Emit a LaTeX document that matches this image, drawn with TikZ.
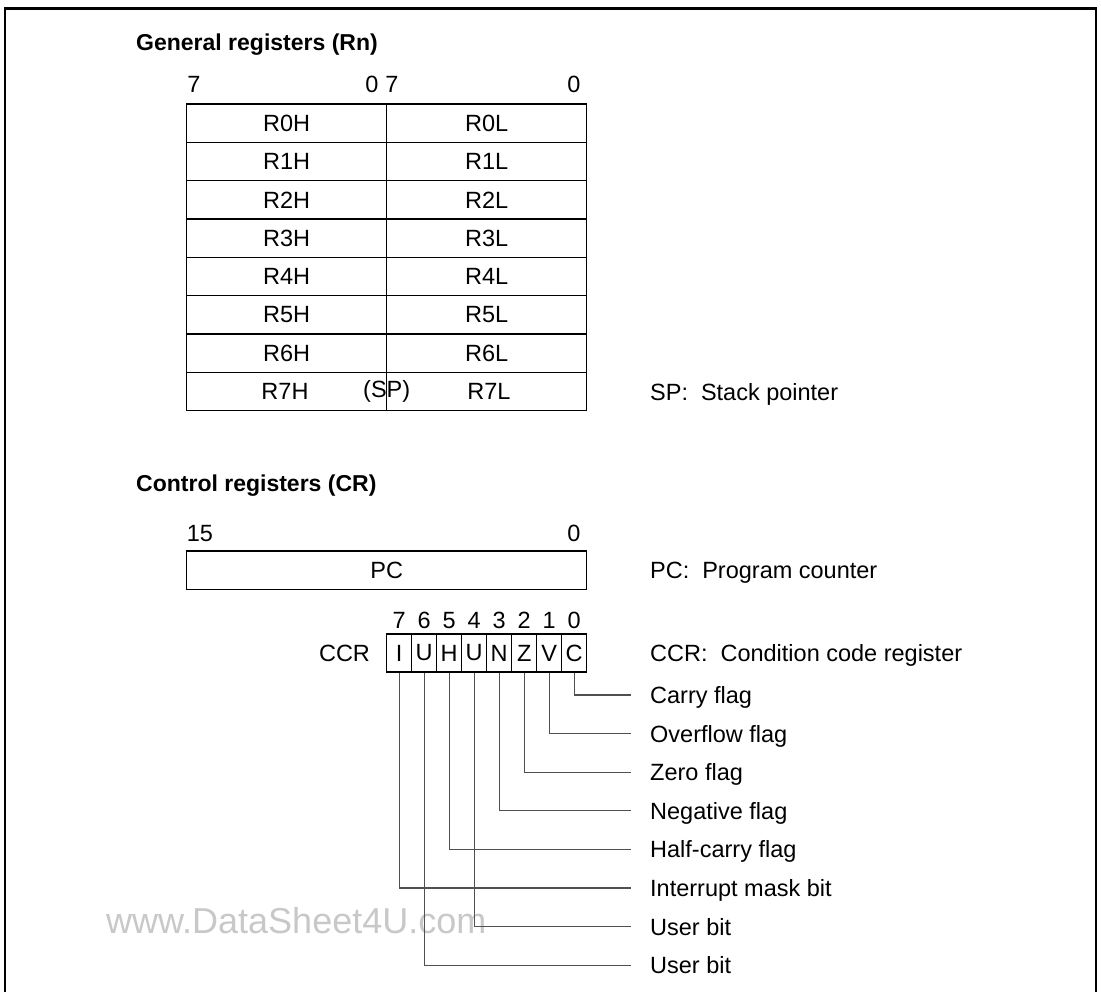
\documentclass[tikz,border=0pt]{standalone}
\usepackage{fontspec}
\setmainfont{Liberation Sans}
\definecolor{wm}{RGB}{200,200,200}
\definecolor{lead}{RGB}{80,80,80}
\begin{document}
\begin{tikzpicture}[x=1pt,y=-1pt,
  txt/.style={font=\fontsize{23.5}{28}\selectfont, inner sep=0pt},
  ttl/.style={font=\fontsize{23}{28}\selectfont\bfseries, inner sep=0pt, anchor=base west},
  lbl/.style={txt, anchor=base west},
  bitno/.style={txt, anchor=base},
  cell/.style={txt, draw, line width=1.4pt, minimum width=200pt, minimum height=38.33pt},
  pcbox/.style={txt, draw, line width=1.4pt, minimum width=400pt, minimum height=38.5pt},
  ccell/.style={txt, draw, line width=1.3pt, minimum width=25pt, minimum height=38pt},
  leader/.style={draw=lead, line width=1.1pt}]
\useasboundingbox (0,0) rectangle (1101,992);
% frame
\draw[line width=2.2pt] (5,992) -- (5,8.5) -- (1096,8.5) -- (1096,992);

% watermark
\node[anchor=base west, inner sep=0pt, font=\fontsize{36}{40}\selectfont, text=wm] (wmark) at (106,933) {www.DataSheet4U.com};

% General registers
\node[ttl] (t1) at (136,51) {General registers (Rn)};
\node[bitno] (g7a) at (194,93) {7};
\node[bitno] (g0a) at (372,93) {0};
\node[bitno] (g7b) at (392,93) {7};
\node[bitno] (g0b) at (574,93) {0};

\foreach \i in {0,...,7}{
  \pgfmathsetmacro{\yc}{123.17+38.33*\i}
  \node[cell] (r\i h) at (286.7,\yc) {\ifnum\i=7 \else R\i H\fi};
  \node[cell] (r\i l) at (486.7,\yc) {\ifnum\i=7 \else R\i L\fi};
}
\node[txt] (r7htxt) at (285,391.8) {R7H};
\node[txt] (sp) at (386.7,391.8) {(SP)};
\node[txt] (r7ltxt) at (489,391.8) {R7L};
\node[lbl] (splbl) at (650,400.2) {SP:\hspace{0.55em}Stack pointer};

% Control registers
\node[ttl] (t2) at (136,491) {Control registers (CR)};
\node[bitno] (p15) at (200,541) {15};
\node[bitno] (p0) at (574,541) {0};
\node[pcbox] (pc) at (386.7,570.25) {PC};
\node[lbl] (pclbl) at (650,578.6) {PC:\hspace{0.55em}Program counter};

\node[txt, anchor=base] (ccrname) at (344.5,661.4) {CCR};
\foreach \b/\t [count=\k from 0] in {7/I,6/U,5/H,4/U,3/N,2/Z,1/V,0/C}{
  \pgfmathsetmacro{\xc}{399.2+25*\k}
  \node[ccell] (c\b) at (\xc,653) {\t};
  \node[bitno] (n\b) at (\xc,628.4) {\b};
}
\node[lbl] (ccrlbl) at (650,661.4) {CCR:\hspace{0.55em}Condition code register};

% leader lines and flag labels
\foreach \b/\t [count=\k from 0] in {0/Carry flag,1/Overflow flag,2/Zero flag,3/Negative flag,5/Half-carry flag,7/Interrupt mask bit,4/User bit,6/User bit}{
  \pgfmathsetmacro{\yk}{695+38.6*\k}
  \coordinate (e\k) at (631,\yk);
  \draw[leader] (c\b.south) |- (e\k);
  \node[lbl] (f\k) at (650,\yk+8.4) {\t};
}
\end{tikzpicture}
\end{document}
